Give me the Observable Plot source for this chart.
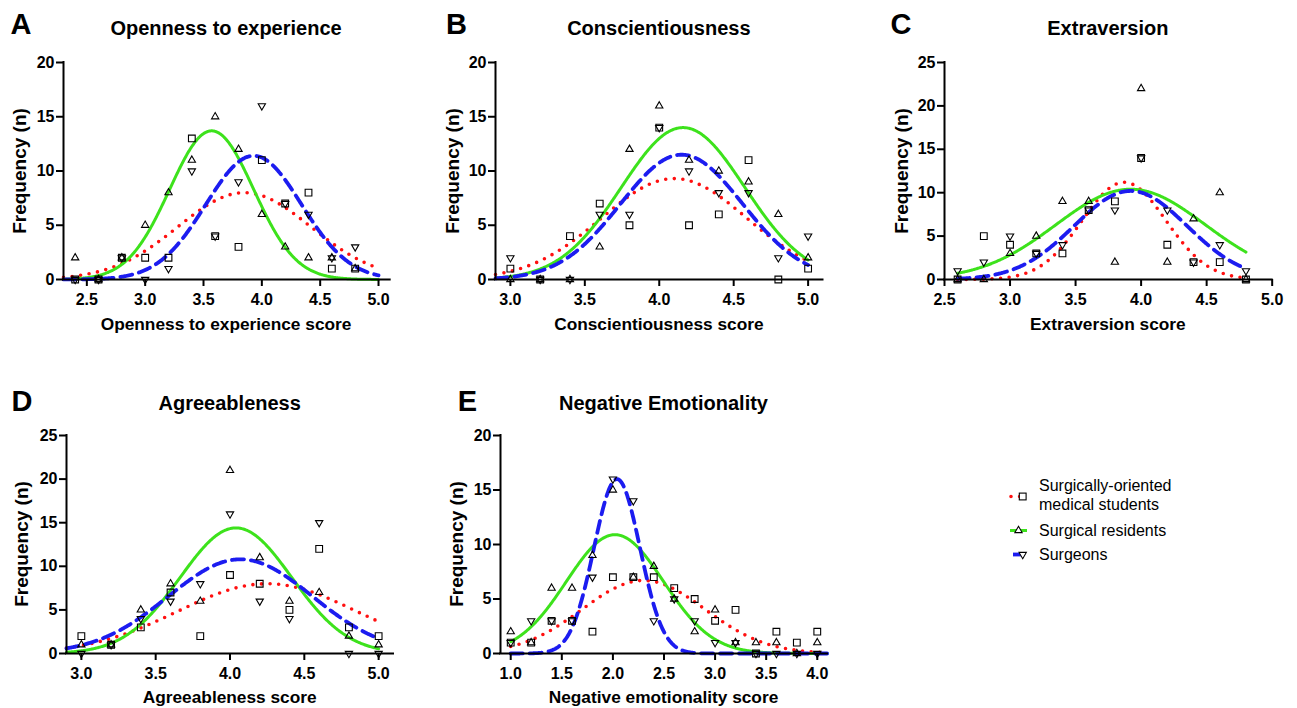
<!DOCTYPE html>
<html><head><meta charset="utf-8">
<script src="https://cdn.jsdelivr.net/npm/d3@7"></script>
<script src="https://cdn.jsdelivr.net/npm/@observablehq/plot@0.6"></script>
<style>
html,body{margin:0;padding:0;background:#fff;}
#root{position:relative;width:1297px;height:708px;overflow:hidden;font-family:"Liberation Sans",Arial,sans-serif;color:#000;background:#fff;}
.t{position:absolute;white-space:nowrap;line-height:1;transform:translate(-50%,-50%);}
.b{font-weight:bold;}
.rot{transform:translate(-50%,-50%) rotate(-90deg);}
.lg{position:absolute;white-space:nowrap;line-height:1;transform:translate(0,-50%);font-size:16px;}
.panel{position:absolute;}
</style></head><body><div id="root"></div>
<script>
// ---------- DATA ----------
const seriesNames = ["Surgically-oriented medical students", "Surgical residents", "Surgeons"];

// A: Openness to experience
const xA = [2.4, 2.6, 2.8, 3.0, 3.2, 3.4, 3.6, 3.8, 4.0, 4.2, 4.4, 4.6, 4.8];
const studentsA = [0, 0, 2, 2, 2, 13, 4, 3, 11, 7, 8, 1, 1];
const residentsA = [2, 0, 2, 5, 8, 11, 15, 12, 6, 3, 2, 2, 1];
const surgeonsA = [0, 0, 2, 0, 1, 10, 4, 9, 16, 7, 6, 2, 3];
// Gaussian fits [amplitude, mean, SD]
const fitStudentsA = [8.0, 3.85, 0.57];
const fitResidentsA = [13.7, 3.57, 0.36];
const fitSurgeonsA = [11.4, 3.93, 0.41];
const xTicksA = [2.5, 3.0, 3.5, 4.0, 4.5, 5.0];
const yTicksA = [0, 5, 10, 15, 20];

// B: Conscientiousness
const xB = [3.0, 3.2, 3.4, 3.6, 3.8, 4.0, 4.2, 4.4, 4.6, 4.8, 5.0];
const studentsB = [1, 0, 4, 7, 5, 14, 5, 6, 11, 0, 1];
const residentsB = [0, 0, 0, 3, 12, 16, 11, 10, 9, 6, 2];
const surgeonsB = [2, 0, 0, 6, 6, 14, 10, 8, 8, 2, 4];
const fitStudentsB = [9.3, 4.10, 0.49];
const fitResidentsB = [14.0, 4.16, 0.415];
const fitSurgeonsB = [11.5, 4.15, 0.41];
const xTicksB = [3.0, 3.5, 4.0, 4.5, 5.0];
const yTicksB = [0, 5, 10, 15, 20];

// C: Extraversion
const xC = [2.6, 2.8, 3.0, 3.2, 3.4, 3.6, 3.8, 4.0, 4.2, 4.4, 4.6, 4.8];
const studentsC = [0, 5, 4, 3, 3, 8, 9, 14, 4, 2, 2, 0];
const residentsC = [0, 0, 3, 5, 9, 9, 2, 22, 2, 7, 10, 0];
const surgeonsC = [1, 2, 5, 3, 4, 8, 8, 14, 8, 2, 4, 1];
const fitStudentsC = [11.2, 3.87, 0.32];
const fitResidentsC = [10.4, 3.92, 0.57];
const fitSurgeonsC = [10.2, 3.92, 0.43];
const xTicksC = [2.5, 3.0, 3.5, 4.0, 4.5, 5.0];
const yTicksC = [0, 5, 10, 15, 20, 25];

// D: Agreeableness
const xD = [3.0, 3.2, 3.4, 3.6, 3.8, 4.0, 4.2, 4.4, 4.6, 4.8, 5.0];
const studentsD = [2, 1, 3, 7, 2, 9, 8, 5, 12, 3, 2];
const residentsD = [1, 1, 5, 8, 6, 21, 11, 6, 7, 2, 1];
const surgeonsD = [0, 1, 4, 6, 8, 16, 6, 4, 15, 0, 0];
const fitStudentsD = [8.0, 4.25, 0.60];
const fitResidentsD = [14.4, 4.04, 0.375];
const fitSurgeonsD = [10.8, 4.07, 0.485];
const xTicksD = [3.0, 3.5, 4.0, 4.5, 5.0];
const yTicksD = [0, 5, 10, 15, 20, 25];

// E: Negative Emotionality
const xE = [1.0, 1.2, 1.4, 1.6, 1.8, 2.0, 2.2, 2.4, 2.6, 2.8, 3.0, 3.2, 3.4, 3.6, 3.8, 4.0];
const studentsE = [1, 1, 3, 3, 2, 7, 7, 7, 6, 5, 3, 4, 0, 2, 1, 2];
const residentsE = [2, 1, 6, 6, 9, 15, 7, 8, 5, 2, 4, 1, 1, 1, 0, 1];
const surgeonsE = [1, 3, 3, 3, 7, 16, 14, 3, 5, 3, 1, 1, 0, 0, 0, 0];
const fitStudentsE = [6.7, 2.30, 0.60];
const fitResidentsE = [10.9, 2.02, 0.475];
const fitSurgeonsE = [16.0, 2.04, 0.225];
const xTicksE = [1.0, 1.5, 2.0, 2.5, 3.0, 3.5, 4.0];
const yTicksE = [0, 5, 10, 15, 20];

// ---------- LAYOUT / STYLE ----------
const RED = "#ff1010", GREEN = "#3de21c", BLUE = "#1c1cf0";
const FONT = "Liberation Sans, Arial, sans-serif";

const panels = [
  {letter: "A", title: "Openness to experience", xlabel: "Openness to experience score",
   x: xA, s: studentsA, r: residentsA, g: surgeonsA, fs: fitStudentsA, fr: fitResidentsA, fg: fitSurgeonsA,
   xTicks: xTicksA, yTicks: yTicksA, xDomain: [2.3, 5.1], curve: [2.3, 5.0],
   px: [62.7, 389.4], py: [62, 279], letterPos: [21, 24], titleY: 27.5, xlabY: 324.7, ylabX: 18.5},
  {letter: "B", title: "Conscientiousness", xlabel: "Conscientiousness score",
   x: xB, s: studentsB, r: residentsB, g: surgeonsB, fs: fitStudentsB, fr: fitResidentsB, fg: fitSurgeonsB,
   xTicks: xTicksB, yTicks: yTicksB, xDomain: [2.9, 5.1], curve: [2.9, 5.0],
   px: [495.1, 822.6], py: [62, 279], letterPos: [456.5, 24], titleY: 27.5, xlabY: 324.7, ylabX: 451.5},
  {letter: "C", title: "Extraversion", xlabel: "Extraversion score",
   x: xC, s: studentsC, r: residentsC, g: surgeonsC, fs: fitStudentsC, fr: fitResidentsC, fg: fitSurgeonsC,
   xTicks: xTicksC, yTicks: yTicksC, xDomain: [2.5, 5.0], curve: [2.6, 4.8],
   px: [944, 1271.7], py: [62, 279], letterPos: [901, 24], titleY: 27.5, xlabY: 324.7, ylabX: 900.5},
  {letter: "D", title: "Agreeableness", xlabel: "Agreeableness score",
   x: xD, s: studentsD, r: residentsD, g: surgeonsD, fs: fitStudentsD, fr: fitResidentsD, fg: fitSurgeonsD,
   xTicks: xTicksD, yTicks: yTicksD, xDomain: [2.9, 5.1], curve: [2.9, 5.0],
   px: [66.2, 393.2], py: [435, 653], letterPos: [22, 401], titleY: 403, xlabY: 698.3, ylabX: 20.5},
  {letter: "E", title: "Negative Emotionality", xlabel: "Negative emotionality score",
   x: xE, s: studentsE, r: residentsE, g: surgeonsE, fs: fitStudentsE, fr: fitResidentsE, fg: fitSurgeonsE,
   xTicks: xTicksE, yTicks: yTicksE, xDomain: [0.9, 4.1], curve: [1.0, 4.1],
   px: [500, 827], py: [435, 653], letterPos: [467.5, 401], titleY: 403, xlabY: 698.3, ylabX: 455.5}
];

const triangleDown = {
  draw(context, size) {
    const sq3 = Math.sqrt(3);
    const y = -Math.sqrt(size / (sq3 * 3));
    context.moveTo(0, -y * 2);
    context.lineTo(-sq3 * y, y);
    context.lineTo(sq3 * y, y);
    context.closePath();
  }
};

function gaussCurve(fit, range) {
  const [amp, mu, sd] = fit;
  return d3.range(range[0], range[1] + 1e-6, 0.005).map(x => ({x, y: amp * Math.exp(-((x - mu) ** 2) / (2 * sd * sd))}));
}

const root = document.getElementById("root");
function addText(txt, cls, x, y, size) {
  const d = document.createElement("div");
  d.className = cls;
  d.textContent = txt;
  d.style.left = x + "px";
  d.style.top = y + "px";
  d.style.fontSize = size + "px";
  root.appendChild(d);
  return d;
}

const mL = 50, mR = 14, mT = 12, mB = 32;

for (const p of panels) {
  const yMax = p.yTicks[p.yTicks.length - 1];
  const w = p.px[1] - p.px[0], h = p.py[1] - p.py[0];
  const pts = (ys) => p.x.map((x, i) => ({x, y: ys[i]}));
  const chart = Plot.plot({
    width: mL + w + mR,
    height: mT + h + mB,
    marginLeft: mL, marginRight: mR, marginTop: mT, marginBottom: mB,
    x: {domain: p.xDomain, label: null},
    y: {domain: [0, yMax], label: null},
    style: {fontFamily: FONT, fontSize: "16px", fontWeight: "bold", color: "black", background: "transparent", overflow: "visible"},
    marks: [
      Plot.line(gaussCurve(p.fs, p.curve), {x: "x", y: "y", stroke: RED, strokeWidth: 3.6, strokeDasharray: "0,8.6", strokeLinecap: "round"}),
      Plot.line(gaussCurve(p.fr, p.curve), {x: "x", y: "y", stroke: GREEN, strokeWidth: 3}),
      Plot.line(gaussCurve(p.fg, p.curve), {x: "x", y: "y", stroke: BLUE, strokeWidth: 3.8, strokeDasharray: "12,7"}),
      Plot.dot(pts(p.s), {x: "x", y: "y", symbol: "square", r: 3.8, stroke: "black", fill: "none", strokeWidth: 1.1}),
      Plot.dot(pts(p.r), {x: "x", y: "y", symbol: "triangle", r: 2.7, stroke: "black", fill: "none", strokeWidth: 1.1}),
      Plot.dot(pts(p.g), {x: "x", y: "y", symbol: triangleDown, r: 2.7, stroke: "black", fill: "none", strokeWidth: 1.1}),
      Plot.ruleY([{y: 0, a: p.xDomain[0], b: p.xDomain[1]}], {y: "y", x1: "a", x2: "b", stroke: "black", strokeWidth: 2, strokeLinecap: "square"}),
      Plot.ruleX([{x: p.xDomain[0], a: 0, b: yMax}], {x: "x", y1: "a", y2: "b", stroke: "black", strokeWidth: 2, strokeLinecap: "square"}),
      Plot.axisX({ticks: p.xTicks, tickFormat: d3.format(".1f"), tickSize: 7, tickPadding: 7.5, strokeWidth: 2, label: null, fontSize: 16, fontWeight: "bold"}),
      Plot.axisY({ticks: p.yTicks, tickFormat: d3.format("d"), tickSize: 7, tickPadding: 2, strokeWidth: 2, label: null, fontSize: 16, fontWeight: "bold"})
    ]
  });
  chart.classList.add("panel");
  chart.style.left = (p.px[0] - mL) + "px";
  chart.style.top = (p.py[0] - mT) + "px";
  root.appendChild(chart);

  const cx = (p.px[0] + p.px[1]) / 2;
  addText(p.letter, "t b", p.letterPos[0], p.letterPos[1], 29);
  addText(p.title, "t b", cx, p.titleY, 20);
  addText(p.xlabel, "t b", cx, p.xlabY, 17.3);
  addText("Frequency (n)", "t b rot", p.ylabX, (p.py[0] + p.py[1]) / 2, 19);
}

// ---------- LEGEND ----------
const legendY = [496.5, 530.5, 554.5];
const lg = d3.create("svg").attr("width", 40).attr("height", 90)
  .style("position", "absolute").style("left", "1000px").style("top", "480px").style("overflow", "visible");
const ly = legendY.map(v => v - 480);
lg.append("line").attr("x1", 11).attr("x2", 28).attr("y1", ly[0]).attr("y2", ly[0])
  .attr("stroke", RED).attr("stroke-width", 3.6).attr("stroke-dasharray", "0,8.6").attr("stroke-linecap", "round");
lg.append("rect").attr("x", 22.7 - 3.4).attr("y", ly[0] - 3.4).attr("width", 6.8).attr("height", 6.8)
  .attr("fill", "white").attr("stroke", "black").attr("stroke-width", 1.1);
lg.append("line").attr("x1", 10).attr("x2", 27).attr("y1", ly[1]).attr("y2", ly[1]).attr("stroke", GREEN).attr("stroke-width", 3);
lg.append("path").attr("transform", `translate(18.5,${ly[1]})`).attr("d", d3.symbol(d3.symbolTriangle, Math.PI * 2.7 * 2.7)())
  .attr("fill", "white").attr("stroke", "black").attr("stroke-width", 1.1);
lg.append("line").attr("x1", 13).attr("x2", 22).attr("y1", ly[2]).attr("y2", ly[2]).attr("stroke", BLUE).attr("stroke-width", 3.8);
lg.append("path").attr("transform", `translate(22.7,${ly[2]})`).attr("d", d3.symbol(triangleDown, Math.PI * 2.7 * 2.7)())
  .attr("fill", "white").attr("stroke", "black").attr("stroke-width", 1.1);
root.appendChild(lg.node());

addText("Surgically-oriented", "lg", 1039, 486, 16);
addText("medical students", "lg", 1039, 505, 16);
addText(seriesNames[1], "lg", 1039, 530.5, 16);
addText(seriesNames[2], "lg", 1039, 554.5, 16);
</script></body></html>
